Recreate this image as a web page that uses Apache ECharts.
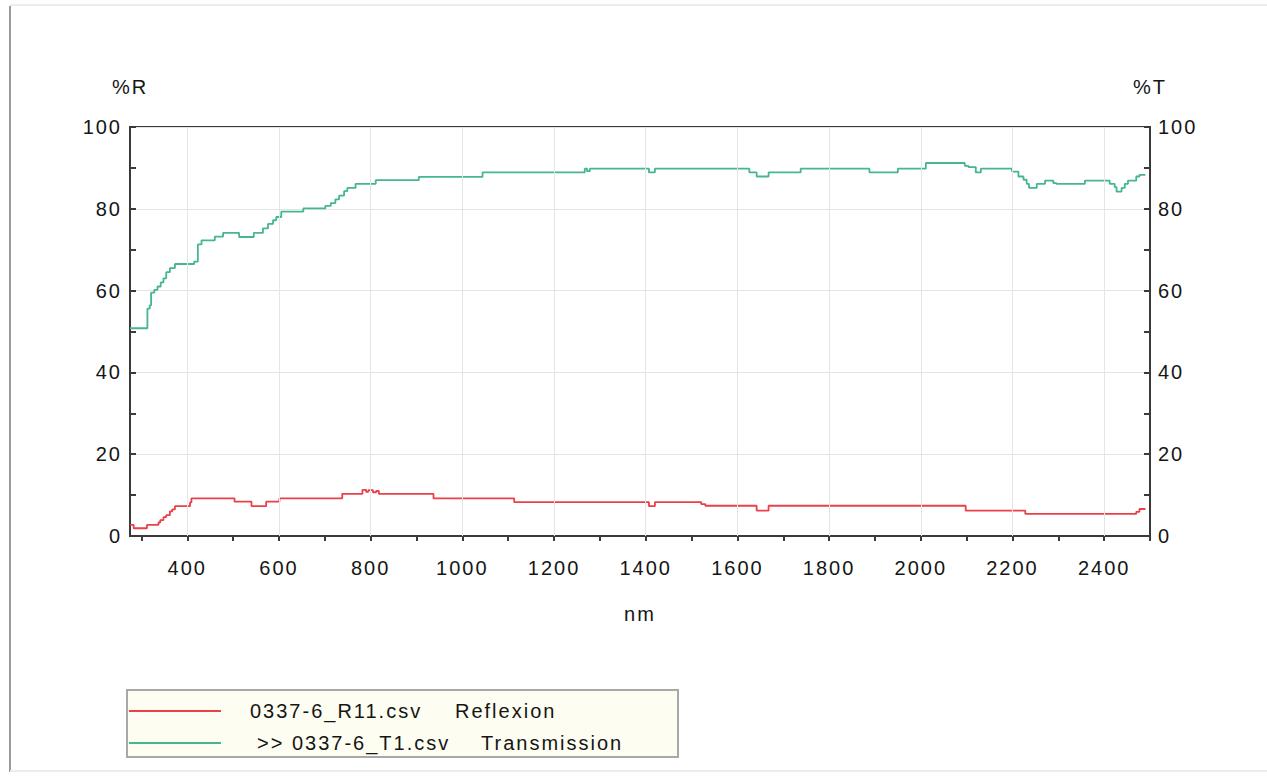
<!DOCTYPE html>
<html>
<head>
<meta charset="utf-8">
<script src="https://cdn.jsdelivr.net/npm/echarts@6/dist/echarts.min.js"></script>
<style>
html,body{margin:0;padding:0;background:#fff;}
#chart{width:1267px;height:776px;}
#chart svg text{letter-spacing:2px;}
</style>
</head>
<body>
<div id="chart"></div>
<script>
// Transmission (%T) step points: wavelength (nm) and value
const transNm  = [275,313,318,321,328,335,342,348,354,362,373,415,423,431,460,478,513,545,565,576,587,594,605,653,701,713,723,731,742,749,767,811,905,1044,1267,1272,1278,1407,1420,1626,1642,1668,1738,1888,1950,2011,2096,2104,2120,2131,2199,2213,2224,2231,2236,2253,2271,2289,2296,2358,2412,2423,2427,2438,2445,2452,2470,2477,2490];
const transPct = [50.8,55.6,56.4,59.5,60.2,61.0,62.0,63.0,64.5,65.5,66.5,67.1,71.3,72.3,73.2,74.1,73.1,74.1,75.2,76.3,77.2,78.0,79.3,80.1,80.7,81.4,82.3,83.2,84.3,85.1,86.1,87.0,87.8,88.9,89.8,89.2,89.8,88.9,89.8,88.9,87.9,88.9,89.8,88.9,89.8,91.2,90.5,90.2,88.9,89.8,89.1,87.9,87.1,86.1,85.1,86.1,86.9,86.3,86.1,86.9,86.1,85.3,84.2,85.1,86.1,86.9,87.9,88.3,88.3];
// Reflexion (%R) step points
const reflNm  = [275,283,312,337,341,348,354,362,367,373,406,409,503,540,572,601,738,782,790,795,805,812,818,937,1113,1407,1420,1521,1530,1642,1668,2098,2228,2470,2477,2490];
const reflPct = [2.7,1.9,2.7,3.3,3.9,4.6,5.1,6.0,6.5,7.3,8.2,9.2,8.4,7.3,8.4,9.2,10.3,11.3,10.8,11.2,10.7,11.0,10.3,9.2,8.3,7.3,8.3,7.8,7.4,6.2,7.4,6.2,5.4,5.9,6.6,6.6];
// axis ticks / labels
const xTickNm  = [300,400,500,600,700,800,900,1000,1100,1200,1300,1400,1500,1600,1700,1800,1900,2000,2100,2200,2300,2400,2500];
const xLabelNm = [400,600,800,1000,1200,1400,1600,1800,2000,2200,2400];
const seriesNames = ['0337-6_R11.csv   Reflexion', '>> 0337-6_T1.csv   Transmission'];

const FONT = '"Liberation Sans", Arial, sans-serif';
const AX = '#3a3a3a';
const TXT = '#151515';
const chart = echarts.init(document.getElementById('chart'), null, {renderer:'svg'});

const yAxisCommon = {
  type:'value', min:0, max:100, interval:20,
  nameLocation:'end', nameGap:30,
  nameTextStyle:{fontFamily:FONT, fontSize:20, color:TXT},
  axisLine:{show:true, lineStyle:{color:AX, width:2}},
  axisTick:{show:true, inside:true, length:6, lineStyle:{color:AX, width:2}},
  minorTick:{show:true, splitNumber:2, length:6, lineStyle:{color:AX, width:2}},
  axisLabel:{fontFamily:FONT, fontSize:20, color:TXT, margin:8},
  splitLine:{show:true, lineStyle:{color:'#e4e4e4', width:1}}
};

const option = {
  backgroundColor:'#ffffff',
  animation:false,
  grid:{left:130, right:117, top:127, bottom:240, show:true, borderColor:AX, borderWidth:2, backgroundColor:'transparent'},
  xAxis:{
    type:'value', min:275, max:2500,
    name:'nm', nameLocation:'middle', nameGap:68,
    nameTextStyle:{fontFamily:FONT, fontSize:20, color:TXT},
    axisLine:{show:true, lineStyle:{color:AX, width:2}},
    axisTick:{show:true, length:5, customValues:xTickNm, lineStyle:{color:AX, width:2}},
    axisLabel:{fontFamily:FONT, fontSize:20, color:TXT, margin:22, customValues:xLabelNm, formatter:v => String(v)},
    splitLine:{show:false}
  },
  yAxis:[
    Object.assign({}, yAxisCommon, {name:'%R', position:'left'}),
    Object.assign({}, yAxisCommon, {name:'%T', position:'right', splitLine:{show:false}})
  ],
  legend:{
    show:true, orient:'vertical', left:129, top:701, padding:0,
    itemWidth:92, itemHeight:2, itemGap:12, icon:'rect',
    data:seriesNames,
    selectedMode:false,
    formatter:function(name){
      const i = seriesNames.indexOf(name);
      const parts = name.split(/\s{2,}/);
      return '{s' + i + '| }{f' + i + '|' + parts[0] + '}{k|' + parts[1] + '}';
    },
    textStyle:{fontFamily:FONT, fontSize:20, color:TXT,
      rich:{
        s0:{width:24, fontSize:20, fontFamily:FONT},
        s1:{width:31, fontSize:20, fontFamily:FONT},
        f0:{width:205, fontSize:20, fontFamily:FONT, color:TXT},
        f1:{width:224, fontSize:20, fontFamily:FONT, color:TXT},
        k:{fontSize:20, fontFamily:FONT, color:TXT}
      }
    }
  },
  graphic:[
    {type:'line', shape:{x1:10, y1:6, x2:10, y2:772}, style:{stroke:'#9a9a9a', lineWidth:2}, silent:true, z:0},
    {type:'line', shape:{x1:10, y1:5, x2:1267, y2:5}, style:{stroke:'#ececec', lineWidth:2}, silent:true, z:0},
    {type:'line', shape:{x1:10, y1:771, x2:1267, y2:771}, style:{stroke:'#ececec', lineWidth:2}, silent:true, z:0},
    {type:'rect', shape:{x:127, y:690, width:551, height:67}, style:{fill:'#fdfdf2', stroke:'#a8a8a8', lineWidth:2}, silent:true, z:-1}
  ],
  series:[
    {
      name:'grid', type:'line', data:[], silent:true, z:1,
      markLine:{silent:true, symbol:['none','none'], label:{show:false},
        lineStyle:{color:'#e4e4e4', width:1, type:'solid'},
        data: xLabelNm.map(v => ({xAxis:v}))}
    },
    {
      name:seriesNames[0], type:'line', step:'end', yAxisIndex:0, showSymbol:false, z:3,
      lineStyle:{color:'#ea4048', width:1.8}, itemStyle:{color:'#ea4048'},
      data: reflNm.map((x,i) => [x, reflPct[i]])
    },
    {
      name:seriesNames[1], type:'line', step:'end', yAxisIndex:1, showSymbol:false, z:4,
      lineStyle:{color:'#45b68f', width:1.8}, itemStyle:{color:'#45b68f'},
      data: transNm.map((x,i) => [x, transPct[i]])
    }
  ]
};
chart.setOption(option);
</script>
</body>
</html>
